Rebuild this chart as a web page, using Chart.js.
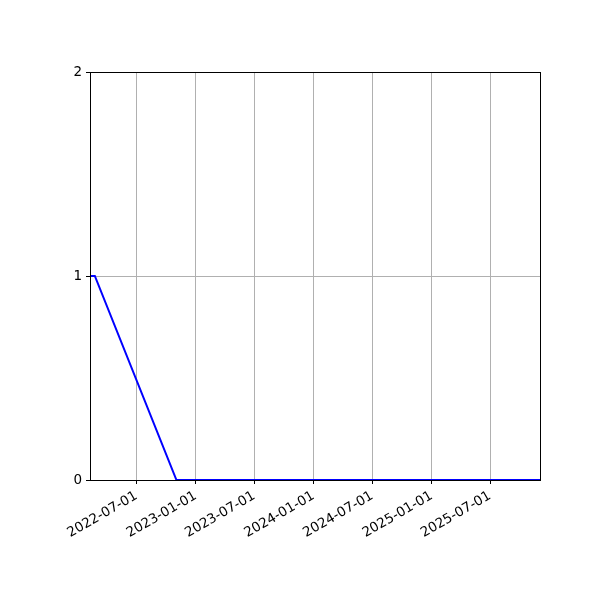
<!DOCTYPE html>
<html>
<head>
<meta charset="utf-8">
<script src="https://cdn.jsdelivr.net/npm/chart.js@4/dist/chart.umd.min.js"></script>
<style>
  html, body { margin: 0; padding: 0; background: #fff; }
  #wrap { width: 600px; height: 600px; }
</style>
</head>
<body>
<div id="wrap"><canvas id="chartLine" width="600" height="600"></canvas></div>
<script>
// data
let pointDates = ["2022-02-07", "2022-02-22", "2022-11-02", "2025-12-03"];
let pointValues = [1, 1, 0, 0];
let tickDates = ["2022-07-01", "2023-01-01", "2023-07-01", "2024-01-01", "2024-07-01", "2025-01-01", "2025-07-01"];
let yTicks = [0, 1, 2];

function toTime(s) {
	let p = s.split("-");
	return Date.UTC(+p[0], +p[1] - 1, +p[2]);
}

function fmtDate(t) {
	let d = new Date(t);
	let m = String(d.getUTCMonth() + 1).padStart(2, "0");
	let day = String(d.getUTCDate()).padStart(2, "0");
	return d.getUTCFullYear() + "-" + m + "-" + day;
}

let linePoints = pointDates.map(function (s, i) {
	return { x: toTime(s), y: pointValues[i] };
});

// black frame round the plot area, like the axes box
let frameBox = {
	id: "frameBox",
	afterDraw: function (chart) {
		let a = chart.chartArea;
		let c = chart.ctx;
		c.save();
		c.strokeStyle = "#000";
		c.lineWidth = 1;
		c.strokeRect(Math.round(a.left) + 0.5, Math.round(a.top) + 0.5, Math.round(a.right - a.left), Math.round(a.bottom - a.top));
		c.restore();
	}
};

Chart.defaults.font.family = "'DejaVu Sans', sans-serif";
Chart.defaults.font.size = 13;
Chart.defaults.color = "#000";

let ctx = document.getElementById("chartLine");

new Chart(ctx, {
	type: "line",
	data: {
		datasets: [{
			data: linePoints,
			borderColor: "#0000ff",
			borderWidth: 2,
			pointRadius: 0,
			tension: 0,
			fill: false
		}]
	},
	options: {
		responsive: false,
		animation: false,
		layout: { padding: { top: 72, right: 60, left: 0, bottom: 0 } },
		plugins: {
			legend: { display: false },
			tooltip: { enabled: false }
		},
		scales: {
			x: {
				type: "linear",
				min: toTime(pointDates[0]),
				max: toTime(pointDates[pointDates.length - 1]),
				afterBuildTicks: function (scale) {
					scale.ticks = tickDates.map(function (s) { return { value: toTime(s) }; });
				},
				afterFit: function (scale) { scale.height = 120; },
				grid: {
					color: "#b0b0b0",
					lineWidth: 1,
					tickColor: "#000",
					tickLength: 4
				},
				border: { display: false },
				ticks: {
					autoSkip: false,
					maxRotation: 30,
					minRotation: 30,
					padding: 4,
					font: { size: 13.5 },
					callback: function (v) { return fmtDate(v); }
				}
			},
			y: {
				min: yTicks[0],
				max: yTicks[yTicks.length - 1],
				afterBuildTicks: function (scale) {
					scale.ticks = yTicks.map(function (v) { return { value: v }; });
				},
				afterFit: function (scale) { scale.width = 90; },
				grid: {
					color: "#b0b0b0",
					lineWidth: 1,
					tickColor: "#000",
					tickLength: 4
				},
				border: { display: false },
				ticks: { padding: 4, font: { size: 13.5 } }
			}
		}
	},
	plugins: [frameBox]
});
</script>
</body>
</html>
